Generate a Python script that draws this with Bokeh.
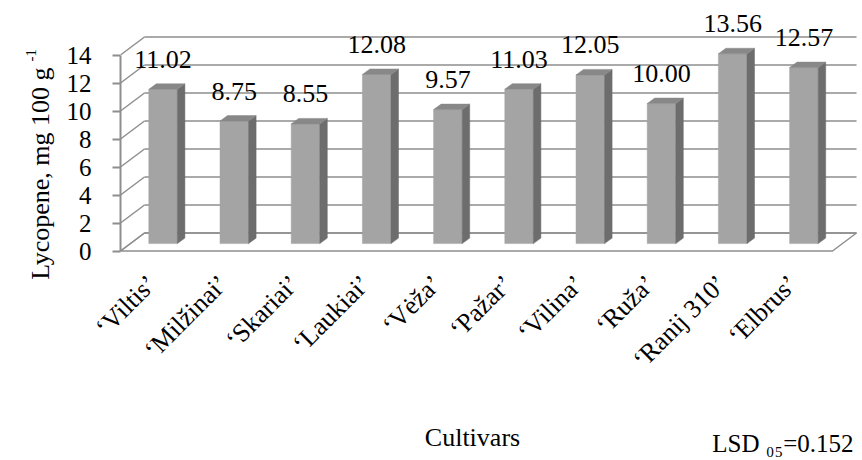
import math
from bokeh.plotting import figure
from bokeh.models import Range1d, LinearAxis, FixedTicker, Label, ColumnDataSource
from bokeh.embed import file_html
from bokeh.resources import INLINE

# ---------------- data ----------------
cultivars = ["‘Viltis’", "‘Milžinai’", "‘Skariai’", "‘Laukiai’", "‘Vėža’",
             "‘Pažar’", "‘Vilina’", "‘Ruža’", "‘Ranij 310’", "‘Elbrus’"]
lycopene = [11.02, 8.75, 8.55, 12.08, 9.57, 11.03, 12.05, 10.00, 13.56, 12.57]
y_ticks = [0, 2, 4, 6, 8, 10, 12, 14]
y_title = "Lycopene, mg 100 g"
y_title_sup = "-1"
x_title = "Cultivars"
lsd_text = "LSD ₀₅=0.152"

# ---------------- layout / style ----------------
FONT = "Liberation Serif"
FS = "26px"
FS_TICK = "25px"
GRID = "#8E8E8E"
FRONT = "#A4A4A4"
SIDE = "#6D6D6D"
TOP = "#888888"

W, H = 862, 460
BL, BT = 120, 0
FRAME_BOTTOM = 255
BB = H - FRAME_BOTTOM
PXU = 71.2   # pixels per category
PXV = 14.0   # pixels per value unit
REF_X0 = 120.0   # x of front-left corner
REF_Y0 = 250.5   # y of front floor line

def ux(rx):
    return (rx - REF_X0) / PXU

def vy(ry):
    return (REF_Y0 - ry) / PXV

p = figure(width=W, height=H,
           x_range=Range1d(ux(BL), ux(W)), y_range=Range1d(vy(FRAME_BOTTOM), vy(BT)),
           output_backend="svg", toolbar_location=None,
           min_border_left=BL, min_border_right=0, min_border_top=BT,
           min_border_bottom=BB, x_axis_location=None, y_axis_location=None)
p.outline_line_color = None
p.xgrid.visible = False
p.ygrid.visible = False
p.background_fill_color = "white"
p.border_fill_color = "white"

n = len(cultivars)
WDX, WDY = 24 / PXU, 18 / PXV   # wall depth

# floor
p.patch([0, n, n + WDX, WDX], [0, 0, WDY, WDY], fill_color="white",
        line_color=GRID, line_width=1.5)
# back wall gridlines
p.segment(x0=[WDX] * len(y_ticks), y0=[t + WDY for t in y_ticks],
          x1=[n + WDX] * len(y_ticks), y1=[t + WDY for t in y_ticks],
          line_color=GRID, line_width=1.5)
# left wall lines
p.segment(x0=[0] * len(y_ticks), y0=y_ticks,
          x1=[WDX] * len(y_ticks), y1=[t + WDY for t in y_ticks],
          line_color=GRID, line_width=1.5)

# bars (pseudo-3D)
BOX, BOY = 7 / PXU, 7.4 / PXV
HW = 14.3 / PXU
BDX, BDY = 7.5 / PXU, 5.5 / PXV
cx = [i + 0.5 + BOX for i in range(n)]
tops = [BOY + v for v in lycopene]

src = ColumnDataSource(dict(left=[c - HW for c in cx], right=[c + HW for c in cx],
                            bottom=[BOY] * n, top=tops))
p.quad(left="left", right="right", bottom="bottom", top="top", source=src,
       fill_color=FRONT, line_color=FRONT, line_width=0.5)

side_xs = [[c + HW, c + HW + BDX, c + HW + BDX, c + HW] for c in cx]
side_ys = [[BOY, BOY + BDY, t + BDY, t] for t in tops]
p.patches(side_xs, side_ys, fill_color=SIDE, line_color=SIDE, line_width=0.5)

top_xs = [[c - HW, c + HW, c + HW + BDX, c - HW + BDX] for c in cx]
top_ys = [[t, t, t + BDY, t + BDY] for t in tops]
p.patches(top_xs, top_ys, fill_color=TOP, line_color=TOP, line_width=0.5)

# data labels
for c, t, v in zip(cx, tops, lycopene):
    p.add_layout(Label(x=c, y=t, text=f"{v:.2f}", y_offset=30,
                       text_align="center", text_baseline="alphabetic",
                       text_font=FONT, text_font_size=FS, text_color="black"))

# y axis
yax = LinearAxis(ticker=FixedTicker(ticks=y_ticks), bounds=(0, 14))
yax.axis_line_color = GRID
yax.axis_line_width = 2
yax.major_tick_line_color = GRID
yax.major_tick_line_width = 2
yax.major_tick_out = 8
yax.major_tick_in = 0
yax.minor_tick_line_color = None
yax.major_label_standoff = 21
yax.major_label_text_font = FONT
yax.major_label_text_font_size = FS_TICK
yax.major_label_text_color = "black"
p.add_layout(yax, "left")

# x axis
LBL_SHIFT = 4 / PXU
xt = [i + 0.5 - LBL_SHIFT for i in range(n)]
xax = LinearAxis(ticker=FixedTicker(ticks=xt),
                 major_label_overrides={t: c for t, c in zip(xt, cultivars)})
xax.axis_line_color = None
xax.major_tick_line_color = None
xax.minor_tick_line_color = None
xax.major_label_orientation = math.pi / 4
xax.major_label_standoff = 18
xax.major_label_text_font = FONT
xax.major_label_text_font_size = FS
xax.major_label_text_color = "black"
p.add_layout(xax, "below")

# titles as labels (in side panels, so they are not clipped to the frame)
p.add_layout(Label(x=ux(40), y=vy(67), text=y_title, angle=math.pi / 2,
                   text_align="right", text_baseline="alphabetic",
                   text_font=FONT, text_font_size=FS, text_color="black"), "left")
p.add_layout(Label(x=ux(30), y=vy(61), text=y_title_sup, angle=math.pi / 2,
                   text_align="left", text_baseline="alphabetic",
                   text_font=FONT, text_font_size="15px", text_color="black"), "left")
p.add_layout(Label(x=ux(472), y=vy(437), text=x_title,
                   text_align="center", text_baseline="alphabetic",
                   text_font=FONT, text_font_size=FS, text_color="black"), "below")
p.add_layout(Label(x=ux(853), y=vy(443), text=lsd_text,
                   text_align="right", text_baseline="alphabetic",
                   text_font=FONT, text_font_size="25px", text_color="black"), "below")

open("out.html", "w").write(file_html(p, INLINE))
